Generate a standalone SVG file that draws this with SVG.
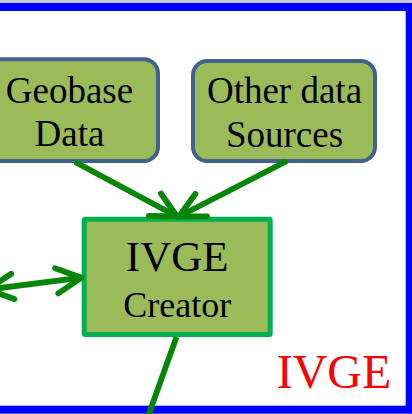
<svg xmlns="http://www.w3.org/2000/svg" width="412" height="414" viewBox="0 0 412 414">
  <style>
    .src rect { fill: #9BBB59; stroke: #41618F; stroke-width: 4; }
    .core rect { fill: #9BBB59; stroke: #00B050; stroke-width: 5; }
    .lbl { fill: #000; text-anchor: middle; }
    .link { fill: none; stroke: #068606; stroke-width: 5.8; stroke-linecap: round; }
    .head { fill: none; stroke: #068606; stroke-width: 5.8; stroke-linecap: round; stroke-linejoin: round; }
  </style>
  <defs>
    <marker id="chevron" markerUnits="userSpaceOnUse" viewBox="-30 -18 36 36" refX="0" refY="0" markerWidth="36" markerHeight="36" orient="auto-start-reverse">
      <path class="head" d="M-25,-12.7 L0,0 L-25,12.7"/>
    </marker>
  </defs>

  <!-- background and frame -->
  <rect x="0" y="0" width="412" height="414" fill="#FFFFFF"/>
  <rect x="0" y="0" width="412" height="3" fill="#C6C6D6"/>
  <rect id="frame" x="-20" y="7" width="429.7" height="402.7" fill="none" stroke="#0000FF" stroke-width="8"/>

  <g font-family="Liberation Serif, Times New Roman, serif">
    <g id="geobase-data" class="src">
      <rect x="-24" y="59.3" width="182" height="101.7" rx="14"/>
      <text class="lbl" x="69.5" y="103" font-size="37">Geobase</text>
      <text class="lbl" x="69.5" y="146" font-size="37">Data</text>
    </g>

    <g id="other-data-sources" class="src">
      <rect x="193" y="61" width="182" height="100" rx="14"/>
      <text class="lbl" x="284.5" y="103" font-size="37">Other data</text>
      <text class="lbl" x="284.5" y="146.5" font-size="37">Sources</text>
    </g>

    <g id="ivge-creator" class="core">
      <rect x="84.2" y="219.2" width="186" height="115.3" rx="1"/>
      <text class="lbl" x="177.2" y="270.7" font-size="43">IVGE</text>
      <text class="lbl" x="177.2" y="316.7" font-size="36">Creator</text>
    </g>
  </g>

  <g id="connectors">
    <path class="link" d="M77,163 L177,216.5" marker-end="url(#chevron)"/>
    <path class="link" d="M285,162 L179,216.5" marker-end="url(#chevron)"/>
    <path class="link" d="M-12,289.5 L81.5,277.7" marker-start="url(#chevron)" marker-end="url(#chevron)"/>
    <path class="link" d="M176.5,337 L146,422" style="stroke-linecap: butt"/>
  </g>

  <text id="boundary-label" x="334" y="387.7" font-family="Liberation Serif, Times New Roman, serif" font-size="48" fill="#FF0000" text-anchor="middle">IVGE</text>
</svg>
